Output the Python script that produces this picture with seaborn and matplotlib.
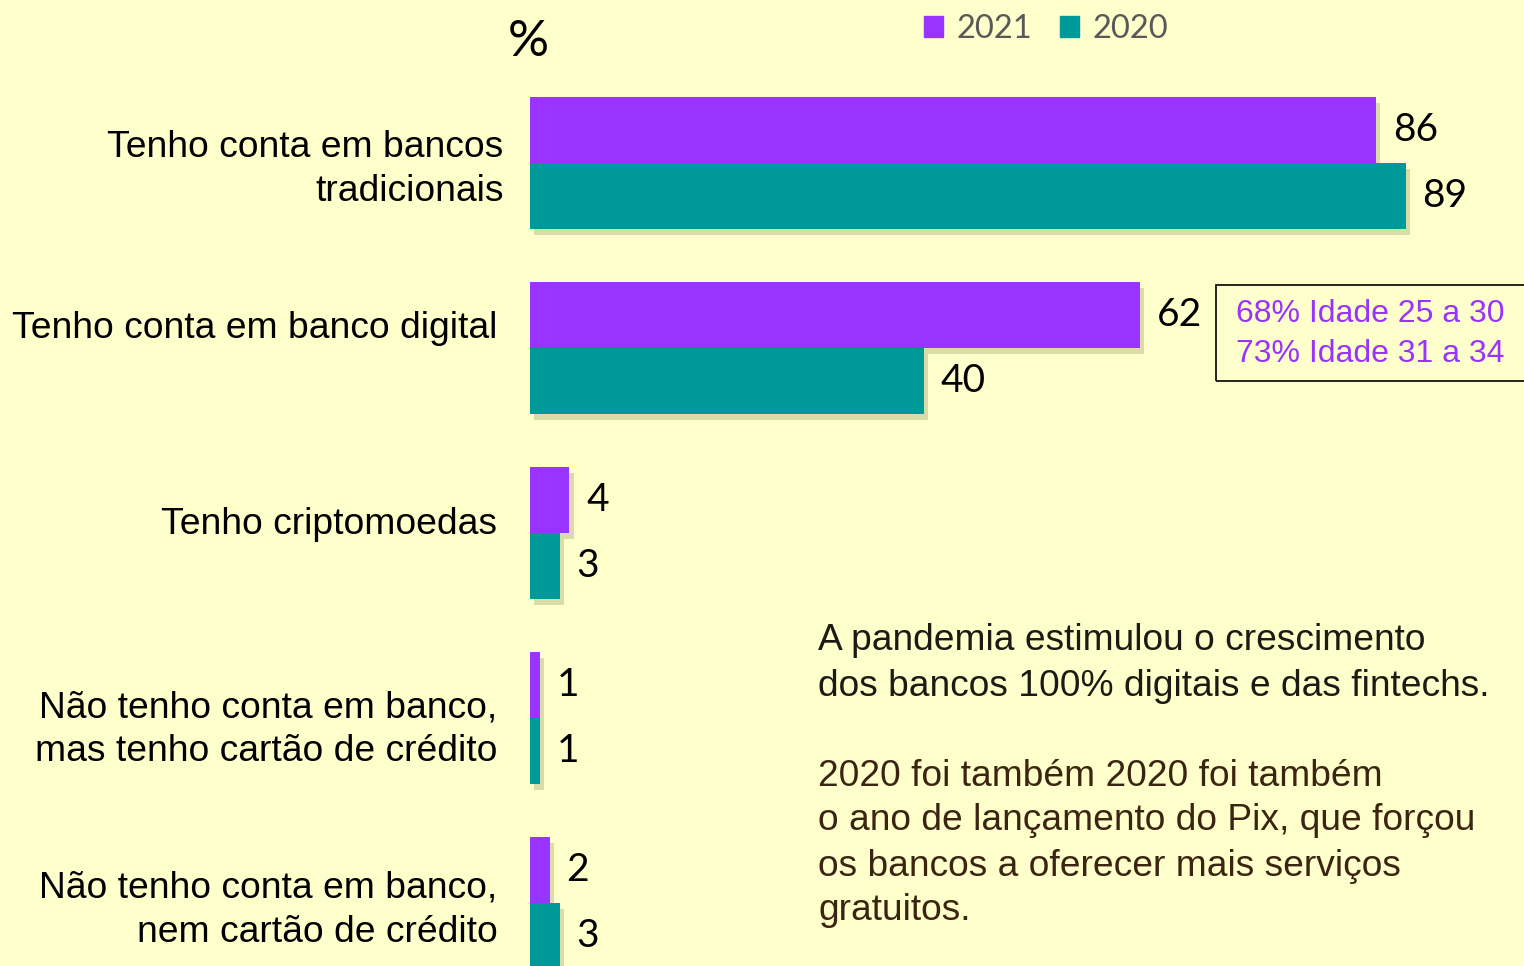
import pandas as pd
import numpy as np
import matplotlib.pyplot as plt
import matplotlib.patheffects as pe
import matplotlib.transforms as mtransforms
from matplotlib.patches import Rectangle
import seaborn as sns

# Data
categorias = [
    "Tenho conta em bancos\ntradicionais",
    "Tenho conta em banco digital",
    "Tenho criptomoedas",
    "Não tenho conta em banco,\nmas tenho cartão de crédito",
    "Não tenho conta em banco,\nnem cartão de crédito",
]
anos = ["2021", "2020"]
valores_2021 = [86, 62, 4, 1, 2]
valores_2020 = [89, 40, 3, 1, 3]

nota_box = ["68% Idade 25 a 30", "73% Idade 31 a 34"]
texto_1 = ["A pandemia estimulou o crescimento",
           "dos bancos 100% digitais e das fintechs."]
texto_2 = ["2020 foi também 2020 foi também",
           "o ano de lançamento do Pix, que forçou",
           "os bancos a oferecer mais serviços",
           "gratuitos."]

cores = {"2021": "#9933FF", "2020": "#009999"}
fundo = "#FFFFCC"

df = pd.DataFrame({
    "categoria": categorias * 2,
    "valor": valores_2021 + valores_2020,
    "ano": ["2021"] * len(categorias) + ["2020"] * len(categorias),
})

sns.set_style("white")
plt.rcParams['font.family'] = ['Liberation Sans', 'DejaVu Sans']

W, H = 1524, 966
fig = plt.figure(figsize=(W / 100, H / 100), dpi=100, facecolor=fundo)
ax = fig.add_axes([530 / W, 0, 1 - 530 / W, 1])
ax.set_facecolor(fundo)

sns.barplot(data=df, y="categoria", x="valor", hue="ano", hue_order=anos,
            palette=cores, width=0.713, gap=0, saturation=1, linewidth=0,
            orient="h", ax=ax, legend=False)

shadow = [pe.SimplePatchShadow(offset=(3, -4), shadow_rgbFace="#9a9a6a", alpha=0.35),
          pe.Normal()]
for cont in ax.containers:
    for p in cont:
        p.set_path_effects(shadow)
    ax.bar_label(cont, padding=12, fontsize=28, family="Lato", color="black")

ax.set_xlim(0, (W - 530) / 9.84)
ax.set_ylim((H - 163) / 185, -163 / 185)
ax.set_xlabel("")
ax.set_ylabel("")
ax.set_xticks([])
ax.tick_params(axis="y", length=0, pad=22, labelsize=26.8, labelcolor="black")
for s in ax.spines.values():
    s.set_visible(False)

# nudge the category labels like in the original slide (pixels, +x right, +y up)
shifts = [(4, 2), (-2, 23), (-2, 12), (-2, -3), (-2, 1)]
for lbl, (dx, dy) in zip(ax.get_yticklabels(), shifts):
    lbl.set_linespacing(1.32)
    lbl.set_transform(lbl.get_transform() +
                      mtransforms.ScaledTranslation(dx / 100, dy / 100, fig.dpi_scale_trans))

# legend
handles = [Rectangle((0, 0), 1, 1, color=cores[a]) for a in anos]
fig.legend(handles, anos, loc="center", bbox_to_anchor=(1046 / W, 1 - 29 / H),
           ncol=2, frameon=False, handlelength=0.6, handleheight=0.6,
           handletextpad=0.4, columnspacing=0.85,
           prop={"family": "Lato", "size": 23.5}, labelcolor="#595959")

fig.text(528 / W, 1 - 42 / H, "%", ha="center", va="center",
         fontsize=37, family="Lato", color="black")

# annotation box
fig.patches.append(Rectangle((1216 / W, 1 - 381 / H), 320 / W, 96 / H,
                             transform=fig.transFigure, fill=False,
                             edgecolor="black", linewidth=1.2))
for i, t in enumerate(nota_box):
    fig.text(1236 / W, 1 - (314 + 40 * i) / H, t, ha="left", va="center",
             fontsize=23, color="#9933FF")

# side text
for i, t in enumerate(texto_1):
    fig.text(818 / W, 1 - (641 + 45 * i) / H, t, ha="left", va="center",
             fontsize=26.7, color="#1c1a12")
for i, t in enumerate(texto_2):
    fig.text(818 / W, 1 - (776 + 45 * i) / H, t, ha="left", va="center",
             fontsize=26.7, color="#3b2510")

fig.savefig("out.png", dpi=100, facecolor=fundo)
